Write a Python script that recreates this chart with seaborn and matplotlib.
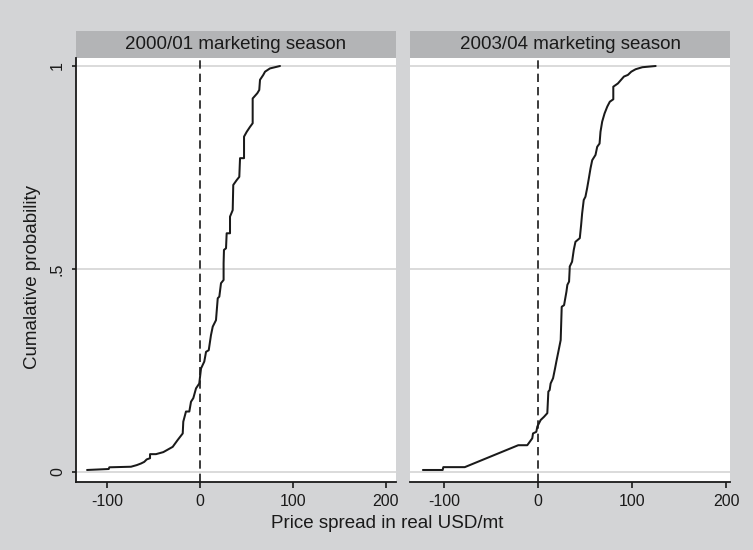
import matplotlib
matplotlib.use("Agg")
import matplotlib.pyplot as plt
from matplotlib.patches import Rectangle
import seaborn as sns
import pandas as pd

# ---- data ----
panel_titles = ["2000/01 marketing season", "2003/04 marketing season"]

spread_2000 = [-121.6, -98.3, -97.6, -74.3, -68.1, -63.5, -60.0, -57.4, -53.8, -53.8,
               -47.4, -39.5, -29.4, -24.0, -18.6, -18.0, -15.1, -11.5, -9.7, -7.2,
               -4.3, -0.8, 1.1, 4.6, 6.5, 9.4, 11.8, 13.7, 17.2, 19.1,
               20.8, 22.6, 25.4, 25.4, 25.8, 28.0, 28.7, 32.3, 32.3, 35.2,
               35.8, 39.5, 42.3, 43.1, 47.4, 47.4, 50.3, 53.8, 56.7, 56.7,
               61.7, 63.8, 64.6, 68.1, 70.0, 75.3, 86.1]
cum_2000 = [0.005, 0.0074, 0.0116, 0.013, 0.017, 0.021, 0.025, 0.031, 0.034, 0.044,
            0.044, 0.049, 0.062, 0.079, 0.095, 0.124, 0.149, 0.149, 0.173, 0.182,
            0.206, 0.218, 0.255, 0.272, 0.296, 0.300, 0.337, 0.358, 0.374, 0.428,
            0.432, 0.465, 0.473, 0.514, 0.547, 0.551, 0.588, 0.588, 0.629, 0.645,
            0.707, 0.719, 0.727, 0.773, 0.773, 0.826, 0.838, 0.850, 0.859, 0.920,
            0.933, 0.941, 0.966, 0.978, 0.986, 0.994, 1.0]

spread_2003 = [-122.3, -101.3, -100.6, -77.8, -21.0, -11.4, -6.1, -5.3, -1.8, -0.7,
               2.8, 6.4, 9.9, 11.0, 12.4, 13.4, 16.0, 18.1, 19.5, 21.6,
               24.1, 25.2, 27.7, 30.2, 31.2, 33.0, 33.7, 33.7, 36.2, 38.0,
               39.8, 44.4, 45.8, 46.9, 48.6, 50.4, 52.2, 54.0, 55.8, 57.6,
               61.1, 62.9, 65.4, 66.4, 68.2, 70.7, 73.6, 76.3, 80.0, 80.0,
               84.9, 91.3, 95.5, 99.1, 103.7, 110.9, 125.0]
cum_2003 = [0.005, 0.005, 0.012, 0.012, 0.066, 0.066, 0.083, 0.095, 0.099, 0.112,
            0.128, 0.136, 0.145, 0.198, 0.202, 0.218, 0.231, 0.255, 0.272, 0.296,
            0.325, 0.407, 0.411, 0.444, 0.461, 0.469, 0.502, 0.506, 0.518, 0.547,
            0.567, 0.576, 0.608, 0.637, 0.670, 0.678, 0.699, 0.723, 0.748, 0.768,
            0.781, 0.801, 0.809, 0.838, 0.863, 0.883, 0.900, 0.912, 0.918, 0.949,
            0.957, 0.974, 0.978, 0.986, 0.992, 0.997, 1.0]

x_ticks = [-100, 0, 100, 200]
x_tick_labels = ["-100", "0", "100", "200"]
y_ticks = [0, 0.5, 1]
y_tick_labels = ["0", ".5", "1"]
x_label = "Price spread in real USD/mt"
y_label = "Cumalative probability"

# ---- styling ----
sns.set_theme(style="white")
plt.rcParams["font.family"] = ["Liberation Sans", "DejaVu Sans"]

BG = "#d3d4d6"
HEADER = "#b3b4b6"
INK = "#1a1a1a"
GRID = "#d8d8d8"

W, H = 753, 550
fig = plt.figure(figsize=(W / 100, H / 100), dpi=100, facecolor=BG)

panels = [
    (spread_2000, cum_2000, [76, 68, 320, 424], (-133.5, 211.0), True),
    (spread_2003, cum_2003, [410, 68, 320, 424], (-136.0, 204.0), False),
]

for (xs, ys, box, xlim, show_y), title in zip(panels, panel_titles):
    ax = fig.add_axes([box[0] / W, box[1] / H, box[2] / W, box[3] / H])
    ax.set_facecolor("white")
    df = pd.DataFrame({"spread": xs, "cum": ys})
    for g in y_ticks:
        ax.axhline(g, color=GRID, lw=1.3, zorder=0)
    ax.axvline(0, color=INK, lw=1.2, ls=(0, (5, 3.0)), zorder=1)
    sns.lineplot(data=df, x="spread", y="cum", sort=False, estimator=None,
                 color=INK, lw=1.45, ax=ax, zorder=3)
    ax.set_xlim(*xlim)
    ax.set_ylim(-0.0246, 1.0197)
    ax.set_xlabel("")
    ax.set_ylabel("")
    for s in ["top", "right"]:
        ax.spines[s].set_visible(False)
    ax.spines["bottom"].set_color(INK)
    ax.spines["bottom"].set_linewidth(1.3)
    ax.set_xticks(x_ticks)
    ax.set_xticklabels(x_tick_labels, fontsize=11.5, color=INK)
    ax.tick_params(axis="x", bottom=True, direction="out", length=4.5,
                   width=1.2, color=INK, pad=4.5)
    if show_y:
        ax.spines["left"].set_color(INK)
        ax.spines["left"].set_linewidth(1.3)
        ax.set_yticks(y_ticks)
        ax.set_yticklabels(y_tick_labels, fontsize=11.5, color=INK,
                           rotation=90, va="center")
        ax.tick_params(axis="y", left=True, direction="out", length=3,
                       width=1.2, color=INK, pad=5)
    else:
        ax.spines["left"].set_visible(False)
        ax.set_yticks([])
    # panel header
    hdr = Rectangle((0, 1.0), 1, 27 / 424, transform=ax.transAxes,
                    facecolor=HEADER, edgecolor="none", clip_on=False)
    ax.add_patch(hdr)
    ax.text(0.5, 1.0 + 13.5 / 424, title, transform=ax.transAxes,
            ha="center", va="center", fontsize=13.5, color=INK)

fig.text(387 / W, 1 - 523 / H, x_label, ha="center", va="center",
         fontsize=13.5, color=INK)
fig.text(33 / W, 1 - 277 / H, y_label, ha="center", va="center",
         rotation=90, fontsize=13.5, color=INK)

fig.savefig("out.png", dpi=100, facecolor=BG)
